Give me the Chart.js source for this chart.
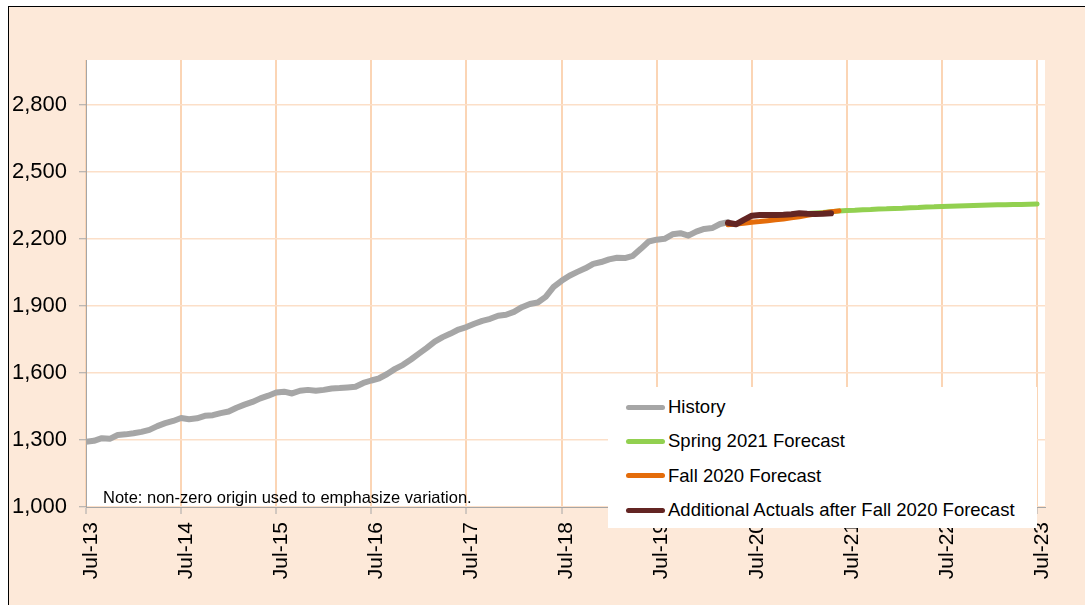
<!DOCTYPE html>
<html>
<head>
<meta charset="utf-8">
<script src="https://cdn.jsdelivr.net/npm/chart.js@4/dist/chart.umd.min.js"></script>
<style>
    body { margin: 0; background: #ffffff; font-family: "Liberation Sans", Arial, sans-serif; }
    #frame {
        position: absolute; left: 8px; top: 6px; width: 1076px; height: 598px;
        background: #FDE9D9; border-left: 1px solid #000; border-top: 1px solid #000;
    }
    #chart { position: absolute; left: 0; top: 0; }
    #note {
        position: absolute; left: 94px; top: 482px; font-size: 16.5px; line-height: 16.5px;
        color: #000; white-space: nowrap;
    }
    #legend {
        position: absolute; left: 599px; top: 380px; width: 429px; height: 141px;
        background: #ffffff; padding-top: 3px; box-sizing: border-box;
    }
    .row { display: flex; align-items: center; height: 34.3px; }
    .swatch { width: 39px; height: 5px; border-radius: 3px; margin-left: 18px; margin-right: 3px; }
    .label { font-size: 18.5px; color: #000; white-space: nowrap; }
</style>
</head>
<body>
<div id="frame">
    <canvas id="chart" width="1076" height="598"></canvas>
    <div id="note">Note: non-zero origin used to emphasize variation.</div>
    <div id="legend"></div>
</div>
<script>
// months counted from Jul-13 (0) ; Jul-23 = 120
const yearLabels = ["Jul-13", "Jul-14", "Jul-15", "Jul-16", "Jul-17", "Jul-18", "Jul-19", "Jul-20", "Jul-21", "Jul-22", "Jul-23"];
const yTickValues = [1000, 1300, 1600, 1900, 2200, 2500, 2800];

const historyStart = 0;
const historyValues = [
    1292, 1296, 1308, 1305, 1322, 1325, 1330, 1336, 1345, 1362, 1375, 1385,
    1398, 1393, 1397, 1408, 1411, 1420, 1427, 1444, 1458, 1470, 1486, 1498,
    1512, 1516, 1508, 1520, 1524, 1520, 1524, 1530, 1532, 1535, 1538, 1555,
    1566, 1576, 1595, 1618, 1636, 1660, 1686, 1712, 1740, 1760, 1776, 1794,
    1805, 1820, 1833, 1842, 1856, 1860, 1873, 1894, 1908, 1915, 1940, 1985,
    2012, 2035, 2052, 2068, 2088, 2096, 2108, 2115, 2114, 2124, 2155, 2188,
    2196, 2200, 2220, 2225, 2214, 2232, 2244, 2248, 2266, 2274
];

const springStart = 91;
const springValues = [
    2313, 2316, 2318, 2321, 2324, 2327, 2328, 2330, 2331, 2333, 2334, 2336,
    2337, 2339, 2340, 2342, 2343, 2345, 2346, 2347, 2348, 2349, 2350, 2351,
    2352, 2352, 2353, 2354, 2355, 2356
];

const fallStart = 81;
const fallValues = [2263, 2266, 2270, 2274, 2277, 2281, 2285, 2289, 2294, 2299, 2305, 2311, 2316, 2321, 2325];

const actualsStart = 81;
const actualsValues = [2272, 2265, 2285, 2303, 2306, 2306, 2307, 2308, 2310, 2314, 2312, 2311, 2312, 2314];

function toPoints(start, values) {
    return values.map((v, i) => ({ x: start + i, y: v }));
}

// white plot area
const plotBackground = {
    id: "plotBackground",
    beforeDraw(chart) {
        const a = chart.chartArea;
        const ctx = chart.ctx;
        ctx.save();
        ctx.fillStyle = "#ffffff";
        ctx.fillRect(a.left, a.top, a.right - a.left, a.bottom - a.top);
        ctx.restore();
    }
};

const lineStyle = {
    pointRadius: 0,
    pointHoverRadius: 0,
    tension: 0,
    fill: false,
    borderCapStyle: "round",
    borderJoinStyle: "round"
};

const chart = new Chart(document.getElementById("chart").getContext("2d"), {
    type: "line",
    data: {
        datasets: [
            { label: "History", data: toPoints(historyStart, historyValues), borderColor: "#A6A6A6", borderWidth: 6, order: 3, ...lineStyle },
            { label: "Spring 2021 Forecast", data: toPoints(springStart, springValues), borderColor: "#92D050", borderWidth: 5, order: 2, ...lineStyle },
            { label: "Fall 2020 Forecast", data: toPoints(fallStart, fallValues), borderColor: "#E46C0A", borderWidth: 5, order: 1, ...lineStyle },
            { label: "Additional Actuals after Fall 2020 Forecast", data: toPoints(actualsStart, actualsValues), borderColor: "#632523", borderWidth: 6, order: 0, ...lineStyle }
        ]
    },
    options: {
        responsive: false,
        animation: false,
        devicePixelRatio: 1,
        layout: { padding: { top: 53, right: 40, left: 0, bottom: 0 } },
        plugins: {
            legend: { display: false },
            tooltip: { enabled: false }
        },
        scales: {
            x: {
                type: "linear",
                min: 0,
                max: 121,
                afterFit: function (scale) { scale.height = 98; },
                afterBuildTicks: function (scale) {
                    scale.ticks = yearLabels.map((l, i) => ({ value: i * 12 }));
                },
                grid: { color: "#FBD5B5", lineWidth: 2, drawTicks: true, tickLength: 7, tickColor: "#A6A6A6", tickWidth: 1 },
                border: { color: "#A6A6A6", width: 1 },
                ticks: {
                    autoSkip: false,
                    minRotation: 90,
                    maxRotation: 90,
                    padding: 8,
                    labelOffset: 5,
                    color: "#000",
                    font: { family: "Liberation Sans", size: 21 },
                    callback: function (value) { return yearLabels[Math.round(value / 12)]; }
                }
            },
            y: {
                min: 1000,
                max: 3000,
                afterFit: function (scale) { scale.width = 77; },
                afterBuildTicks: function (scale) {
                    scale.ticks = yTickValues.map(v => ({ value: v }));
                },
                grid: { color: "#FCDFC8", lineWidth: 1.5, drawTicks: true, tickLength: 7, tickColor: "#A6A6A6", tickWidth: 1 },
                border: { color: "#A6A6A6", width: 1 },
                ticks: {
                    padding: 12,
                    color: "#000",
                    font: { family: "Liberation Sans", size: 22 },
                    callback: function (value) { return value.toLocaleString("en-US"); }
                }
            }
        }
    },
    plugins: [plotBackground]
});

// Build legend box from the datasets
let legendDiv = document.getElementById("legend");
chart.data.datasets.forEach(ds => {
    let row = document.createElement("div");
    row.className = "row";
    let sw = document.createElement("div");
    sw.className = "swatch";
    sw.style.background = ds.borderColor;
    let lb = document.createElement("div");
    lb.className = "label";
    lb.textContent = ds.label;
    row.appendChild(sw);
    row.appendChild(lb);
    legendDiv.appendChild(row);
});
</script>
</body>
</html>
